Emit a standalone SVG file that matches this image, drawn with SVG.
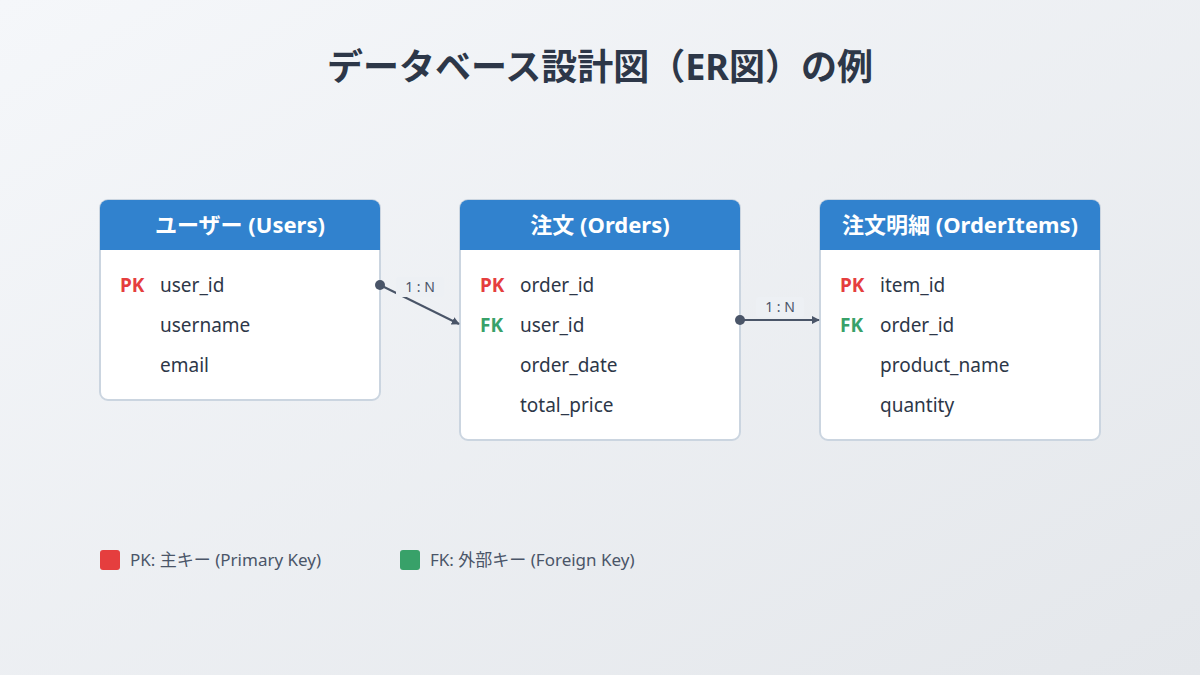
<svg xmlns="http://www.w3.org/2000/svg" width="1200" height="675" viewBox="0 0 1200 675">
<defs>
<linearGradient id="bg" x1="0" y1="0" x2="1" y2="1"><stop offset="0" stop-color="#f5f7fa"/><stop offset="1" stop-color="#e4e7eb"/></linearGradient>
<marker id="arr" viewBox="0 0 10 10" refX="9" refY="5" markerWidth="8" markerHeight="8" markerUnits="userSpaceOnUse" orient="auto"><path d="M0,0 L10,5 L0,10 z" fill="#4a5568"/></marker>
<clipPath id="c1"><rect x="100" y="200" width="280" height="200" rx="8"/></clipPath>
<clipPath id="c2"><rect x="460" y="200" width="280" height="240" rx="8"/></clipPath>
<clipPath id="c3"><rect x="820" y="200" width="280" height="240" rx="8"/></clipPath>
</defs>
<style>
text{font-family:"Noto Sans","Noto Sans CJK JP",sans-serif}
.box{fill:#fff;stroke:#cbd5e0;stroke-width:2}
.hd{fill:#3182ce}
.ht{fill:#fff;font-size:22px;font-weight:bold;text-anchor:middle}
.f{fill:#2d3748;font-size:19px}
.pk{fill:#e53e3e;font-size:19px;font-weight:bold}
.fk{fill:#38a169;font-size:19px;font-weight:bold}
.lbl{fill:#4a5568;font-size:14px;text-anchor:middle}
.leg{fill:#4a5568;font-size:17px}
</style>
<rect width="1200" height="675" fill="url(#bg)"/>
<text x="600" y="80" text-anchor="middle" font-size="36" font-weight="bold" fill="#2d3748">データベース設計図（ER図）の例</text>
<g id="users">
<rect class="box" x="100" y="200" width="280" height="200" rx="8"/>
<rect class="hd" x="100" y="200" width="280" height="50" clip-path="url(#c1)"/>
<text class="ht" x="240" y="233">ユーザー (Users)</text>
<text class="pk" x="120" y="292">PK</text><text class="f" x="160" y="292">user_id</text>
<text class="f" x="160" y="332">username</text>
<text class="f" x="160" y="372">email</text>
</g>
<g id="orders">
<rect class="box" x="460" y="200" width="280" height="240" rx="8"/>
<rect class="hd" x="460" y="200" width="280" height="50" clip-path="url(#c2)"/>
<text class="ht" x="600" y="233">注文 (Orders)</text>
<text class="pk" x="480" y="292">PK</text><text class="f" x="520" y="292">order_id</text>
<text class="fk" x="480" y="332">FK</text><text class="f" x="520" y="332">user_id</text>
<text class="f" x="520" y="372">order_date</text>
<text class="f" x="520" y="412">total_price</text>
</g>
<g id="orderitems">
<rect class="box" x="820" y="200" width="280" height="240" rx="8"/>
<rect class="hd" x="820" y="200" width="280" height="50" clip-path="url(#c3)"/>
<text class="ht" x="960" y="233">注文明細 (OrderItems)</text>
<text class="pk" x="840" y="292">PK</text><text class="f" x="880" y="292">item_id</text>
<text class="fk" x="840" y="332">FK</text><text class="f" x="880" y="332">order_id</text>
<text class="f" x="880" y="372">product_name</text>
<text class="f" x="880" y="412">quantity</text>
</g>
<g id="connectors">
<line x1="380" y1="285" x2="459" y2="324" stroke="#4a5568" stroke-width="2" marker-end="url(#arr)"/>
<circle cx="380" cy="285" r="5" fill="#4a5568"/>
<rect x="396" y="277" width="48" height="20" rx="3" fill="#edf0f4"/>
<text class="lbl" x="420" y="292">1 : N</text>
<line x1="740" y1="320" x2="819" y2="320" stroke="#4a5568" stroke-width="2" marker-end="url(#arr)"/>
<circle cx="740" cy="320" r="5" fill="#4a5568"/>
<rect x="756" y="297" width="48" height="20" rx="3" fill="#edf0f4"/>
<text class="lbl" x="780" y="312">1 : N</text>
</g>
<g id="legend">
<rect x="100" y="550" width="20" height="20" rx="3" fill="#e53e3e"/>
<text class="leg" x="130" y="566">PK: 主キー (Primary Key)</text>
<rect x="400" y="550" width="20" height="20" rx="3" fill="#38a169"/>
<text class="leg" x="430" y="566">FK: 外部キー (Foreign Key)</text>
</g>
</svg>
